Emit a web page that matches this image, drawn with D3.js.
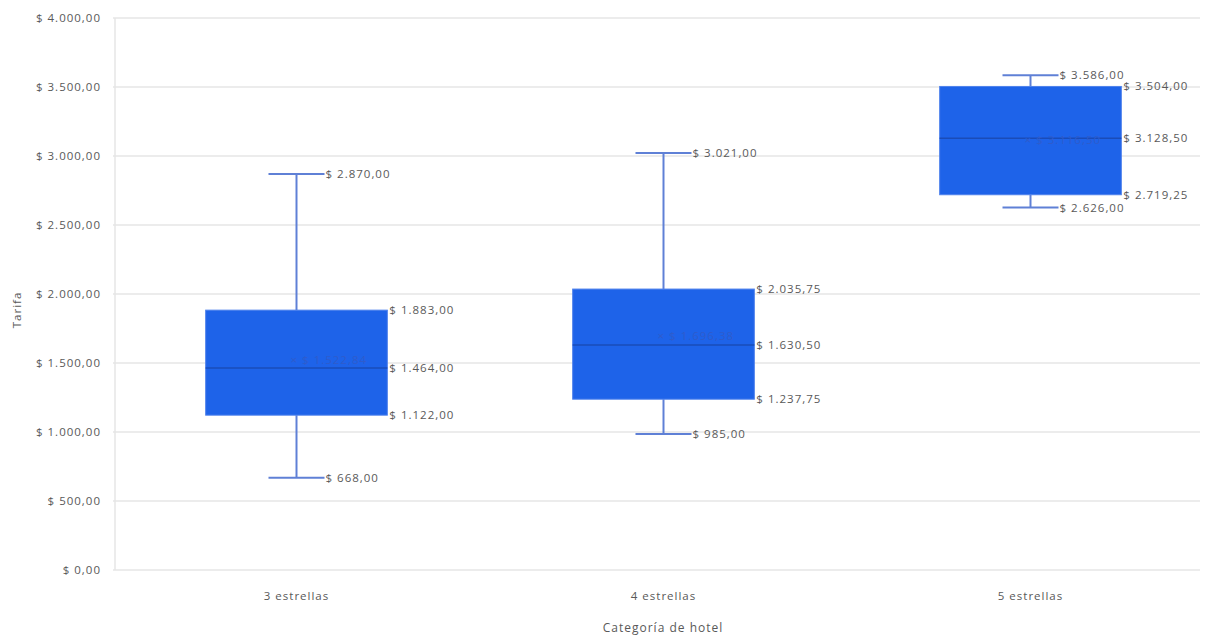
<!DOCTYPE html>
<html>
<head>
<meta charset="utf-8">
<script src="https://cdn.jsdelivr.net/npm/d3@7"></script>
<style>
  html, body { margin: 0; padding: 0; background: #ffffff; }
  svg { display: block; }
  text { font-family: "Open Sans", sans-serif; letter-spacing: 1px; }
</style>
</head>
<body>
<svg id="chart" width="1206" height="637"></svg>
<script>
// ---- data ----
const categories = ["3 estrellas", "4 estrellas", "5 estrellas"];
const minValues    = [668, 985, 2626];
const q1Values     = [1122, 1237.75, 2719.25];
const medianValues = [1464, 1630.5, 3128.5];
const q3Values     = [1883, 2035.75, 3504];
const maxValues    = [2870, 3021, 3586];
const meanValues   = [1522.84, 1696.38, 3116.5];
const yTicks = [0, 500, 1000, 1500, 2000, 2500, 3000, 3500, 4000];
const yTitle = "Tarifa";
const xTitle = "Categoría de hotel";

// ---- layout ----
const W = 1206, H = 637;
const margin = { left: 113, right: -8, top: 18, bottom: 67 };
const svg = d3.select("#chart");

const x = d3.scaleBand().domain(categories)
  .range([margin.left, W - margin.right]).padding(0);
const y = d3.scaleLinear().domain([0, 4000]).range([H - margin.bottom, margin.top]);

const fmt = v => {
  const s = d3.format(",.2f")(v);
  return "$ " + s.replace(/,/g, "#").replace(".", ",").replace(/#/g, ".");
};

const labelColor = "#595959";
const gridColor = "#e6e6e6";
const boxFill = "#1e63e9";
const boxStroke = "#4f82ec";
const medianColor = "#1a4cb8";
const whiskerColor = "#5f80d6";
const fs = "11.5px";

// grid
svg.append("g").selectAll("line").data(yTicks).join("line")
  .attr("x1", margin.left).attr("x2", 1200)
  .attr("y1", d => y(d)).attr("y2", d => y(d))
  .attr("stroke", gridColor).attr("stroke-width", 1.5);

// y-axis line
svg.append("line")
  .attr("x1", margin.left + 2).attr("x2", margin.left + 2)
  .attr("y1", y(4000)).attr("y2", y(0))
  .attr("stroke", gridColor).attr("stroke-width", 1.5);

// y-axis
const yAxis = d3.axisLeft(y).tickValues(yTicks).tickFormat(fmt).tickSize(0).tickPadding(0);
const yg = svg.append("g").attr("transform", `translate(${101},0)`).call(yAxis);
yg.select(".domain").remove();
yg.selectAll("text").attr("fill", labelColor).style("font-size", fs)
  .style("font-family", "'Open Sans', sans-serif");

// x-axis
const xAxis = d3.axisBottom(x).tickSize(0).tickPadding(0);
const xg = svg.append("g").attr("transform", `translate(0,${592})`).call(xAxis);
xg.select(".domain").remove();
xg.selectAll("text").attr("fill", labelColor).style("font-size", fs)
  .style("font-family", "'Open Sans', sans-serif");

// titles
svg.append("text").attr("x", 663).attr("y", 632).attr("text-anchor", "middle")
  .attr("fill", labelColor).style("font-size", "12px").text(xTitle);
svg.append("text").attr("transform", `translate(21,310) rotate(-90)`)
  .attr("text-anchor", "middle").attr("fill", labelColor).style("font-size", fs).text(yTitle);

// boxes
const data = categories.map((c, i) => ({
  c, min: minValues[i], q1: q1Values[i], med: medianValues[i],
  q3: q3Values[i], max: maxValues[i], mean: meanValues[i]
}));
const bw = x.bandwidth() * 0.495;
const capHalf = 28;

const g = svg.append("g");
data.forEach(d => {
  const cx = x(d.c) + x.bandwidth() / 2;
  g.append("line").attr("x1", cx).attr("x2", cx).attr("y1", y(d.max)).attr("y2", y(d.q3))
    .attr("stroke", whiskerColor).attr("stroke-width", 2);
  g.append("line").attr("x1", cx).attr("x2", cx).attr("y1", y(d.q1)).attr("y2", y(d.min))
    .attr("stroke", whiskerColor).attr("stroke-width", 2);
  [d.max, d.min].forEach(v => {
    g.append("line").attr("x1", cx - capHalf).attr("x2", cx + capHalf)
      .attr("y1", y(v)).attr("y2", y(v))
      .attr("stroke", whiskerColor).attr("stroke-width", 2);
    g.append("text").attr("x", cx + capHalf + 1).attr("y", y(v)).attr("dy", "0.35em")
      .attr("fill", labelColor).style("font-size", fs).text(fmt(v));
  });
  g.append("rect").attr("x", cx - bw / 2).attr("width", bw)
    .attr("y", y(d.q3)).attr("height", y(d.q1) - y(d.q3))
    .attr("fill", boxFill).attr("stroke", boxStroke).attr("stroke-width", 1);
  g.append("line").attr("x1", cx - bw / 2).attr("x2", cx + bw / 2)
    .attr("y1", y(d.med)).attr("y2", y(d.med))
    .attr("stroke", medianColor).attr("stroke-width", 1.5);
  g.append("text").attr("x", cx - 6).attr("y", y(d.mean)).attr("dy", "0.35em")
    .attr("fill", "#2e5ccc").style("font-size", fs).text("× " + fmt(d.mean));
  [d.q3, d.med, d.q1].forEach(v => {
    g.append("text").attr("x", cx + bw / 2 + 2).attr("y", y(v)).attr("dy", "0.35em")
      .attr("fill", labelColor).style("font-size", fs).text(fmt(v));
  });
});
</script>
</body>
</html>
